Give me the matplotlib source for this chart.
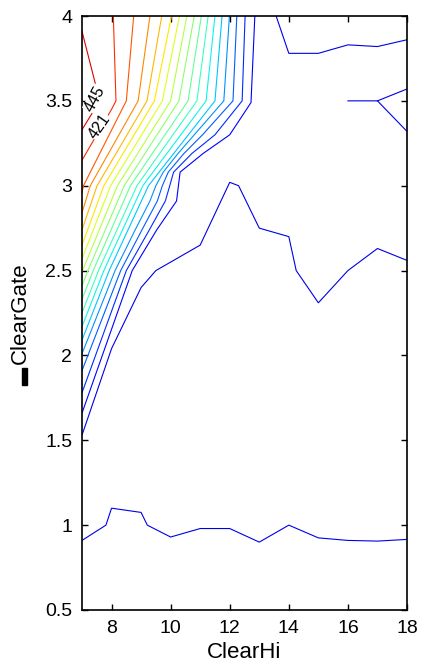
import numpy as np
import matplotlib.pyplot as plt
from matplotlib.colors import Normalize
from matplotlib.patches import Rectangle

plt.rcParams['font.family'] = ['Liberation Sans', 'DejaVu Sans']

# contour lines (ClearHi, ClearGate), one pair per line
x_445 = [7.0, 7.6, 7.0]
y_445 = [3.91, 3.5, 3.33]
x_421 = [8.06, 8.15, 8.0, 7.0]
y_421 = [4.0, 3.5, 3.45, 3.15]
x_397 = [8.75, 8.5, 7.05, 7.0]
y_397 = [4.0, 3.5, 3.0, 2.96]
x_373 = [9.3, 8.9, 7.28, 7.0]
y_373 = [4.0, 3.5, 3.0, 2.84]
x_349 = [9.7, 9.2, 7.51, 7.0]
y_349 = [4.0, 3.5, 3.0, 2.74]
x_325 = [10.03, 9.45, 7.74, 7.0]
y_325 = [4.0, 3.5, 3.0, 2.65]
x_301 = [10.3, 9.72, 7.97, 7.0]
y_301 = [4.0, 3.5, 3.0, 2.57]
x_277 = [10.55, 10.0, 8.2, 7.02, 7.0]
y_277 = [4.0, 3.5, 3.0, 2.5, 2.49]
x_253 = [10.8, 10.28, 8.43, 7.2, 7.0]
y_253 = [4.0, 3.5, 3.0, 2.5, 2.41]
x_229 = [11.04, 10.59, 8.64, 7.38, 7.0]
y_229 = [4.0, 3.5, 3.0, 2.5, 2.33]
x_205 = [11.27, 10.89, 8.86, 7.56, 7.0]
y_205 = [4.0, 3.5, 3.0, 2.5, 2.25]
x_181 = [11.5, 11.2, 9.06, 7.74, 7.0]
y_181 = [4.0, 3.5, 3.0, 2.5, 2.17]
x_157 = [11.74, 11.5, 9.25, 7.92, 7.0]
y_157 = [4.0, 3.5, 3.0, 2.5, 2.09]
x_133 = [11.99, 11.8, 10.8, 10.25, 9.75, 9.5, 9.3, 8.8, 8.12, 7.0]
y_133 = [4.0, 3.5, 3.3, 3.19, 3.08, 3.0, 2.91, 2.74, 2.5, 2.01]
x_109 = [12.24, 12.11, 11.08, 10.45, 9.92, 9.72, 9.55, 9.03, 8.31, 7.0]
y_109 = [4.0, 3.5, 3.3, 3.19, 3.08, 3.0, 2.91, 2.74, 2.5, 1.91]
x_85 = [12.52, 12.42, 11.5, 10.72, 10.1, 9.97, 9.82, 9.28, 8.5, 7.0]
y_85 = [4.0, 3.5, 3.3, 3.19, 3.08, 3.0, 2.91, 2.74, 2.5, 1.78]
x_61 = [12.85, 12.72, 12.0, 11.1, 10.32, 10.2, 9.53, 8.7, 7.0]
y_61 = [4.0, 3.49, 3.3, 3.19, 3.08, 2.91, 2.74, 2.5, 1.66]
x_37a = [7.0, 8.0, 9.0, 9.5, 10.0, 11.0, 12.0, 12.3, 13.0, 14.0, 14.25, 15.0, 16.0, 17.0, 18.0]
y_37a = [1.53, 2.04, 2.40, 2.5, 2.55, 2.65, 3.02, 3.0, 2.75, 2.70, 2.5, 2.31, 2.5, 2.63, 2.56]
x_37b = [13.57, 14.0, 15.0, 16.0, 17.0, 18.0]
y_37b = [4.0, 3.78, 3.78, 3.83, 3.82, 3.86]
x_37c = [16.0, 17.0, 18.0]
y_37c = [3.5, 3.5, 3.57]
x_37d = [17.0, 18.0]
y_37d = [3.5, 3.32]
x_13 = [7.0, 7.81, 8.0, 9.0, 9.21, 10.0, 11.0, 12.0, 13.0, 14.0, 15.0, 16.0, 17.0, 18.0]
y_13 = [0.91, 1.0, 1.1, 1.075, 1.0, 0.93, 0.98, 0.98, 0.90, 1.0, 0.925, 0.91, 0.906, 0.916]

contour_lines = [
    (445, x_445, y_445), (421, x_421, y_421), (397, x_397, y_397),
    (373, x_373, y_373), (349, x_349, y_349), (325, x_325, y_325),
    (301, x_301, y_301), (277, x_277, y_277), (253, x_253, y_253),
    (229, x_229, y_229), (205, x_205, y_205), (181, x_181, y_181),
    (157, x_157, y_157), (133, x_133, y_133), (109, x_109, y_109),
    (85, x_85, y_85), (61, x_61, y_61), (37, x_37a, y_37a),
    (37, x_37b, y_37b), (37, x_37c, y_37c), (37, x_37d, y_37d),
    (13, x_13, y_13),
]

x_ticks = [8, 10, 12, 14, 16, 18]
y_ticks = [0.5, 1, 1.5, 2, 2.5, 3, 3.5, 4]
y_tick_labels = ['0.5', '1', '1.5', '2', '2.5', '3', '3.5', '4']

fig = plt.figure(figsize=(4.21, 6.68), dpi=100)
ax = fig.add_axes([82 / 421, 58 / 668, 325 / 421, 594 / 668])

cmap = plt.get_cmap('jet')
norm = Normalize(vmin=5, vmax=485)
for level, xs, ys in contour_lines:
    c = cmap(np.clip(norm(level), 0.09, 1.0))
    ax.plot(xs, ys, color=c, lw=0.8, solid_joinstyle='miter')

# inline labels like MATLAB clabel
ax.text(7.45, 3.51, '445', rotation=62, fontsize=11.5, ha='center', va='center',
        bbox=dict(fc='white', ec='none', pad=0.2), zorder=3)
ax.text(7.6, 3.35, '421', rotation=55, fontsize=11.5, ha='center', va='center',
        bbox=dict(fc='white', ec='none', pad=0.2), zorder=3)

ax.set_xlim(7, 18)
ax.set_ylim(0.5, 4)
ax.set_xticks(x_ticks)
ax.set_yticks(y_ticks)
ax.set_yticklabels(y_tick_labels)
ax.tick_params(direction='in', length=4.5, width=1, top=True, right=True,
               labelsize=14, pad=7)
for s in ax.spines.values():
    s.set_linewidth(1.2)
ax.set_xlabel('ClearHi', fontsize=16, labelpad=4)
ax.set_ylabel('ClearGate', fontsize=16, labelpad=10)

fig.patches.append(Rectangle((22 / 421, (668 - 385) / 668), 5 / 421, 17 / 668,
                             transform=fig.transFigure, color='black'))

fig.savefig('out.png', dpi=100)
